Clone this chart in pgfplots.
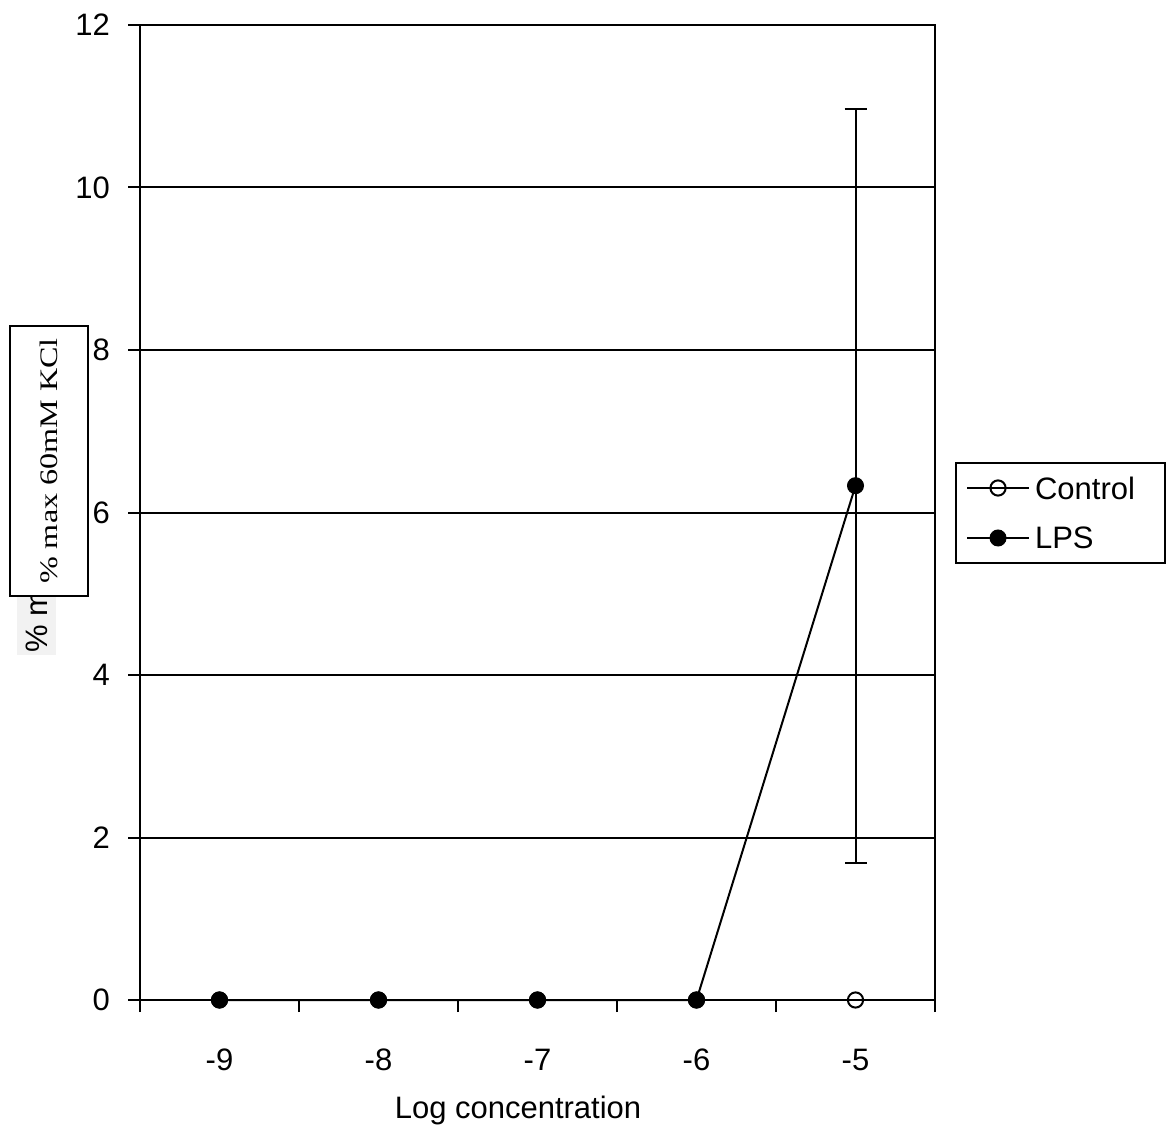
\documentclass[border=0pt]{standalone}
\usepackage{fontspec}
\setmainfont{Liberation Sans}
\newfontfamily\serifbox{Liberation Serif}
\usepackage{pgfplots}
\pgfplotsset{compat=1.18}
\usepackage{graphicx}

\begin{document}
\begin{tikzpicture}[font=\fontsize{15.5}{18.6}\selectfont]
\path[use as bounding box] (0pt,0pt) rectangle (584.5pt,-567pt);

% y-axis title, partly hidden behind the boxed label
\node[rotate=90, fill=black!5, inner xsep=1pt, inner ysep=4pt, anchor=south west]
  at (28pt,-327.5pt) {\% max 60mM KCl};

\begin{axis}[
  at={(70pt,-500pt)}, anchor=south west,
  scale only axis, width=397.5pt, height=487.5pt,
  xmin=-9.5, xmax=-4.5, ymin=0, ymax=12,
  xtick={-9,-8,-7,-6,-5},
  minor xtick={-9.5,-8.5,-7.5,-6.5,-5.5,-4.5},
  major x tick style={draw=none},
  ytick={0,2,...,12},
  tick align=outside, xtick pos=bottom, ytick pos=left,
  major tick length=6pt, minor tick length=6pt,
  tick style={black, line width=1pt},
  axis line style={black, line width=1pt},
  ymajorgrids, grid style={black, line width=1pt},
  /pgf/number format/assume math mode=true,
  xticklabel style={yshift=-15pt},
  yticklabel style={xshift=-5.5pt},
  xlabel={Log concentration},
  xlabel style={at={(axis description cs:0.4755,0)}, anchor=center, yshift=-55pt},
  clip=false,
  legend cell align=left,
  legend image code/.code={%
    \draw[#1, mark repeat=2, mark phase=2]
      plot coordinates {(0pt,0pt) (15.5pt,0pt) (31pt,0pt)};},
  legend style={at={(axis description cs:1.0252,0.4995)}, anchor=west,
    draw=black, line width=1pt, inner xsep=5pt, inner ysep=0pt,
    row sep=0pt,
    nodes={inner sep=0pt, text width=60pt, minimum height=25pt, text depth=0pt},
    /tikz/every odd column/.append style={column sep=2.5pt}},
]
\addplot[black, line width=1pt, mark=o,
  mark options={fill=white, line width=1pt, mark size=3.8pt}]
  coordinates {(-9,0) (-8,0) (-7,0) (-6,0) (-5,0)};
\addlegendentry{Control}

\addplot[draw=none, forget plot,
  error bars/.cd, y dir=both, y explicit,
  error bar style={black, line width=1pt},
  error mark options={black, line width=1pt, mark size=5.5pt, rotate=90}]
  coordinates {(-5,6.33) +- (0,4.64)};

\addplot[black, line width=1pt, mark=*,
  mark options={fill=black, line width=0.5pt, mark size=4pt}]
  coordinates {(-9,0) (-8,0) (-7,0) (-6,0) (-5,6.33)};
\addlegendentry{LPS}
\end{axis}

% boxed y-axis label
\node[draw=black, line width=0.7pt, fill=white, rotate=90,
  minimum width=135pt, minimum height=39pt, inner sep=0pt]
  at (24.5pt,-230.5pt) {\serifbox\fontsize{12}{14}\selectfont\scalebox{1.34}[1.05]{\% max 60mM KCl}};
\end{tikzpicture}
\end{document}
